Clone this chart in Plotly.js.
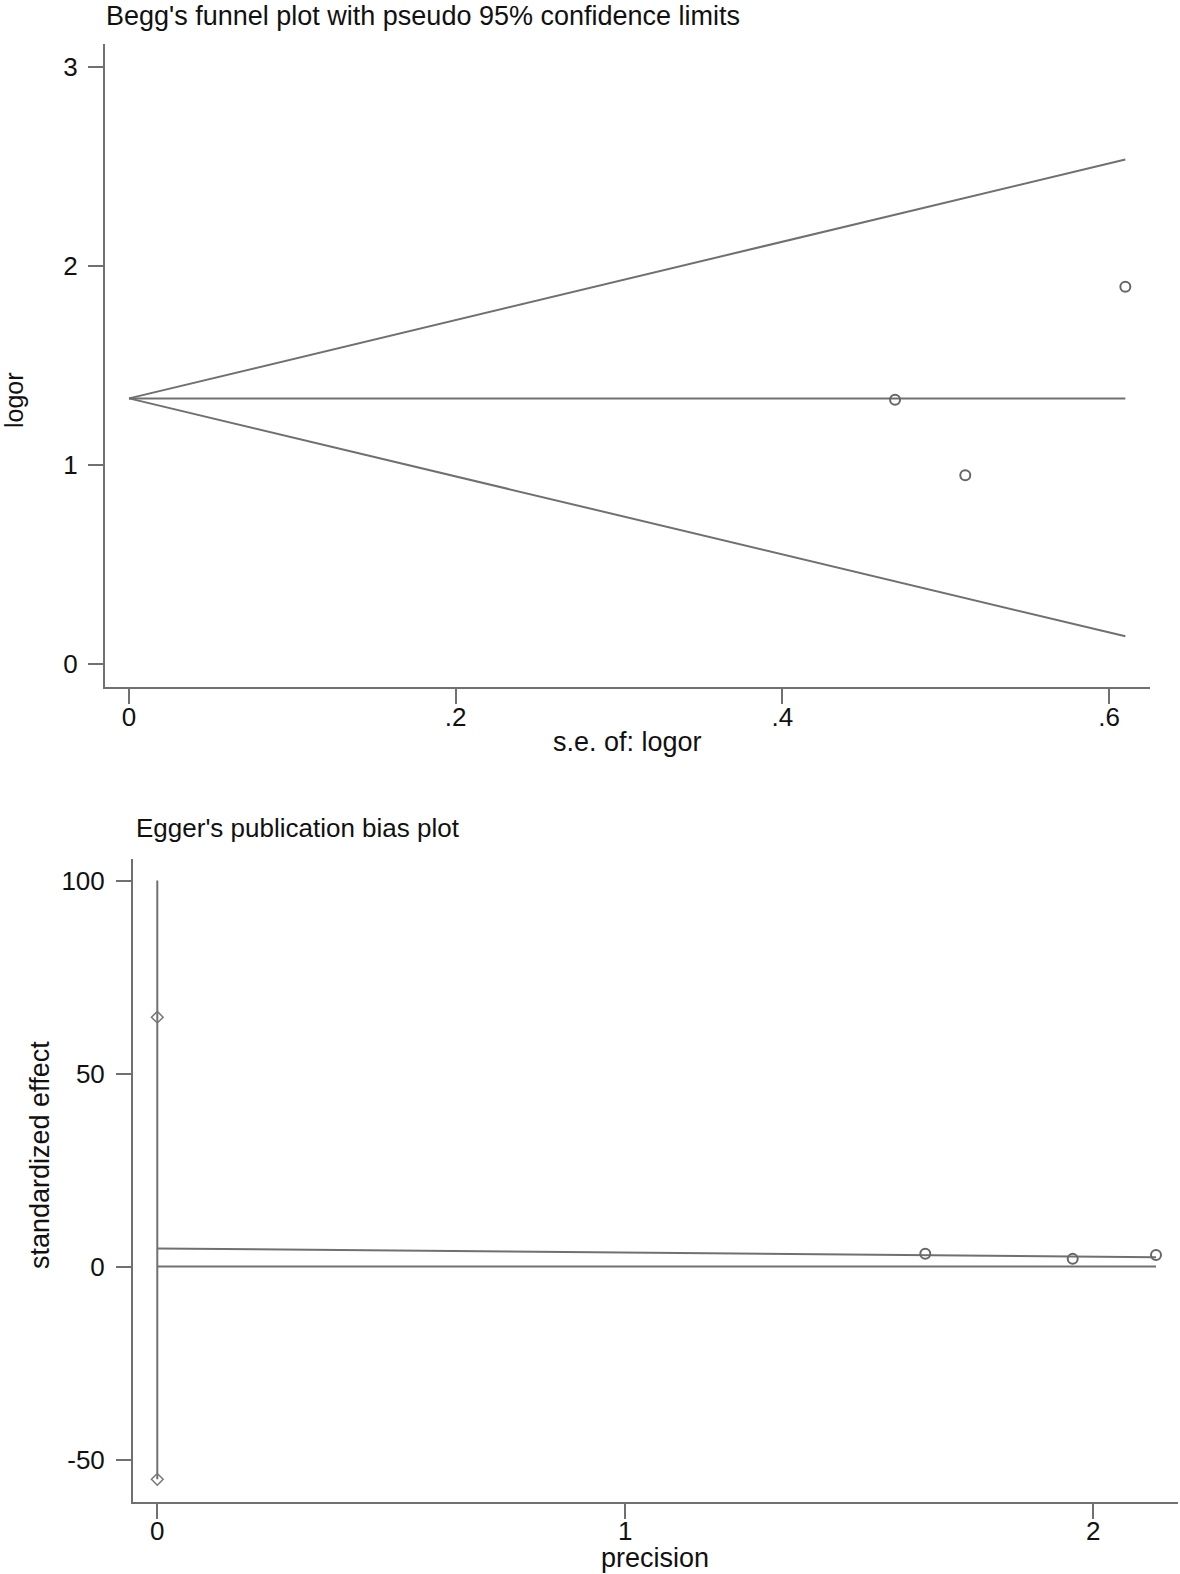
<!DOCTYPE html>
<html>
<head>
<meta charset="utf-8">
<script src="https://cdn.plot.ly/plotly-3.0.1.min.js"></script>
<style>html,body{margin:0;padding:0;background:#fff;}#chart{width:1180px;height:1574px;}</style>
</head>
<body>
<div id="chart"></div>
<script>
// ---- Begg's funnel plot data ----
const beggSE = [0.469, 0.512, 0.610];
const beggLogOR = [1.327, 0.948, 1.895];
const funnelX = [0, 0.610];
const funnelCenter = [1.334, 1.334];
const funnelUpper = [1.334, 2.534];
const funnelLower = [1.334, 0.139];
const beggXTicks = [0, 0.2, 0.4, 0.6];
const beggXTickText = ['0', '.2', '.4', '.6'];
const beggYTicks = [0, 1, 2, 3];

// ---- Egger's publication bias plot data ----
const eggerPrecision = [1.641, 1.956, 2.134];
const eggerEffect = [3.3, 2.0, 3.0];
const regX = [0, 2.134];
const regY = [4.7, 2.45];
const zeroX = [0, 2.134];
const zeroY = [0, 0];
const ciX = [0, 0];
const ciLine = [100, -55.1];
const ciDiamonds = [64.6, -55.1];
const eggerXTicks = [0, 1, 2];
const eggerYTicks = [-50, 0, 50, 100];
const eggerYTickText = ['-50', '0', '50', '100'];

const LC = '#707070';
const FONT = 'Arial, "Liberation Sans", sans-serif';
const TXT = '#111111';

function line(x, y, xa, ya) {
  return {x: x, y: y, xaxis: xa, yaxis: ya, type: 'scatter', mode: 'lines',
    line: {color: LC, width: 2}, hoverinfo: 'skip', showlegend: false};
}

const traces = [
  line(funnelX, funnelUpper, 'x', 'y'),
  line(funnelX, funnelLower, 'x', 'y'),
  line(funnelX, funnelCenter, 'x', 'y'),
  {x: beggSE, y: beggLogOR, xaxis: 'x', yaxis: 'y', type: 'scatter', mode: 'markers',
   marker: {symbol: 'circle-open', size: 10, color: '#666', line: {width: 2, color: '#666'}}, showlegend: false},
  line(ciX, ciLine, 'x2', 'y2'),
  {x: ciX, y: ciDiamonds, xaxis: 'x2', yaxis: 'y2', type: 'scatter', mode: 'markers',
   marker: {symbol: 'diamond-open', size: 9, color: '#777', line: {width: 1.5, color: '#777'}}, showlegend: false},
  line(regX, regY, 'x2', 'y2'),
  line(zeroX, zeroY, 'x2', 'y2'),
  {x: eggerPrecision, y: eggerEffect, xaxis: 'x2', yaxis: 'y2', type: 'scatter', mode: 'markers',
   marker: {symbol: 'circle-open', size: 10, color: '#666', line: {width: 2, color: '#666'}}, showlegend: false}
];

function axisBase() {
  return {showline: true, linecolor: LC, linewidth: 2, mirror: false,
    ticks: 'outside', ticklen: 15, tickwidth: 2, tickcolor: LC,
    showgrid: false, zeroline: false, tickmode: 'array',
    tickfont: {family: FONT, size: 26, color: TXT}, fixedrange: true};
}

const W = 1180, H = 1574;
const px = v => v / W;
const py = v => 1 - v / H;

const layout = {
  width: W, height: H,
  margin: {l: 0, r: 0, t: 0, b: 0},
  paper_bgcolor: '#fff', plot_bgcolor: '#fff',
  showlegend: false,
  xaxis: Object.assign(axisBase(), {domain: [px(105), px(1150)], range: [-0.0147, 0.6251],
    tickvals: beggXTicks, ticktext: beggXTickText, anchor: 'y', ticklabelstandoff: -9}),
  yaxis: Object.assign(axisBase(), {domain: [py(686.7), py(44.3)], range: [-0.114, 3.1125],
    tickvals: beggYTicks, anchor: 'x', ticklabelstandoff: 5}),
  xaxis2: Object.assign(axisBase(), {domain: [px(133), px(1178)], range: [-0.0519, 2.181],
    tickvals: eggerXTicks, anchor: 'y2', ticklabelstandoff: -10}),
  yaxis2: Object.assign(axisBase(), {domain: [py(1501.7), py(859.3)], range: [-60.9, 105.5],
    tickvals: eggerYTicks, ticktext: eggerYTickText, anchor: 'x2', ticklabelstandoff: 6}),
  annotations: [
    {text: "Begg's funnel plot with pseudo 95% confidence limits", xref: 'paper', yref: 'paper',
     x: px(105), xanchor: 'left', y: 1, yanchor: 'top', showarrow: false, borderpad: 0,
     font: {family: FONT, size: 27, color: TXT}},
    {text: "Egger's publication bias plot", xref: 'paper', yref: 'paper',
     x: px(134), xanchor: 'left', y: py(828), yanchor: 'middle', showarrow: false,
     font: {family: FONT, size: 26, color: TXT}},
    {text: 's.e. of: logor', xref: 'paper', yref: 'paper',
     x: px(627), xanchor: 'center', y: py(742), yanchor: 'middle', showarrow: false,
     font: {family: FONT, size: 27, color: TXT}},
    {text: 'logor', xref: 'paper', yref: 'paper', textangle: -90,
     x: px(14), xanchor: 'center', y: py(400), yanchor: 'middle', showarrow: false,
     borderpad: 0,
     font: {family: FONT, size: 25, color: TXT}},
    {text: 'precision', xref: 'paper', yref: 'paper',
     x: px(655), xanchor: 'center', y: py(1558), yanchor: 'middle', showarrow: false,
     borderpad: 0,
     font: {family: FONT, size: 27, color: TXT}},
    {text: 'standardized effect', xref: 'paper', yref: 'paper', textangle: -90,
     x: px(40), xanchor: 'center', y: py(1155), yanchor: 'middle', showarrow: false,
     font: {family: FONT, size: 27, color: TXT}}
  ]
};

Plotly.newPlot('chart', traces, layout, {displayModeBar: false, staticPlot: true});
</script>
</body>
</html>
